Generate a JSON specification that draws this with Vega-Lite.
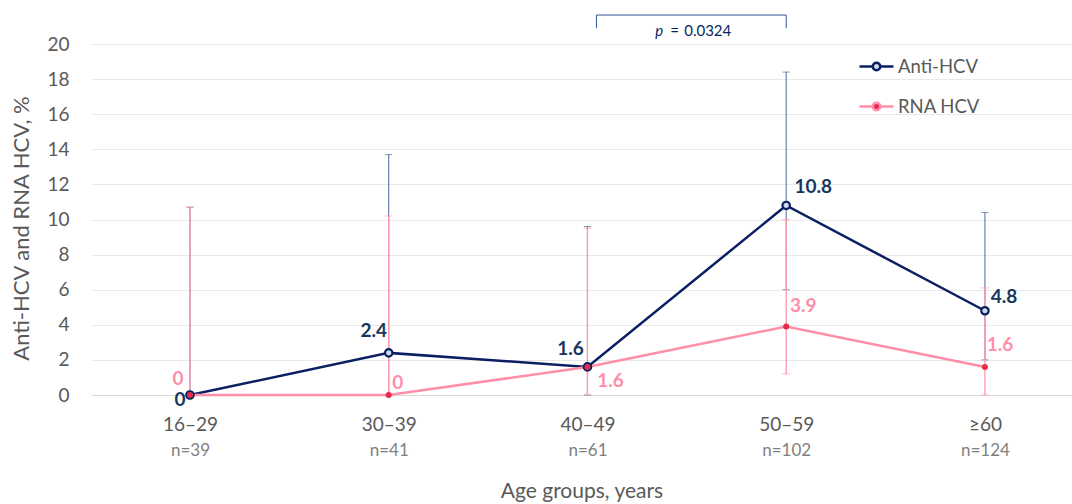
{
  "$schema": "https://vega.github.io/schema/vega-lite/v6.json",
  "width": 981,
  "height": 351,
  "autosize": {"type": "none"},
  "padding": {"left": 91, "top": 44, "right": 0, "bottom": 109},
  "background": "white",
  "config": {
    "view": {"stroke": null},
    "font": "Lato",
    "axis": {"labelFont": "Lato", "titleFont": "Lato", "titleFontWeight": "normal"}
  },
  "datasets": {
    "rates": [
      {"age": "16–29", "n": 39, "series": "Anti-HCV", "value": 0, "lo": 0, "hi": 10.7},
      {"age": "30–39", "n": 41, "series": "Anti-HCV", "value": 2.4, "lo": 0, "hi": 13.7},
      {"age": "40–49", "n": 61, "series": "Anti-HCV", "value": 1.6, "lo": 0, "hi": 9.6},
      {"age": "50–59", "n": 102, "series": "Anti-HCV", "value": 10.8, "lo": 6.0, "hi": 18.4},
      {"age": "≥60", "n": 124, "series": "Anti-HCV", "value": 4.8, "lo": 2.0, "hi": 10.4},
      {"age": "16–29", "n": 39, "series": "RNA HCV", "value": 0, "lo": 0, "hi": 10.7},
      {"age": "30–39", "n": 41, "series": "RNA HCV", "value": 0, "lo": 0, "hi": 10.2},
      {"age": "40–49", "n": 61, "series": "RNA HCV", "value": 1.6, "lo": 0, "hi": 9.5},
      {"age": "50–59", "n": 102, "series": "RNA HCV", "value": 3.9, "lo": 1.2, "hi": 10.0},
      {"age": "≥60", "n": 124, "series": "RNA HCV", "value": 1.6, "lo": 0, "hi": 6.1}
    ],
    "bracket": [
      {"from": "40–49", "to": "50–59", "p": "0.0324"}
    ]
  },
  "resolve": {"scale": {"x": "independent"}, "axis": {"x": "independent"}},
  "layer": [
    {
      "encoding": {
        "x": {
          "field": "age", "type": "ordinal",
          "sort": ["16–29", "30–39", "40–49", "50–59", "≥60"],
          "scale": {"type": "point", "padding": 0.468, "align": 0.532},
          "axis": {
            "orient": "bottom", "title": null, "ticks": false,
            "domainColor": "#d9d9d9", "domainWidth": 1,
            "labelFontSize": 19, "labelColor": "#595959", "labelPadding": 20,
            "labelAngle": 0, "grid": false
          }
        }
      },
      "layer": [
        {
          "data": {"name": "rates"},
          "transform": [{"filter": "datum.series === 'Anti-HCV'"}],
          "mark": {"type": "errorbar", "color": "#4a6a9a", "thickness": 1, "ticks": {"size": 7, "thickness": 1}},
          "encoding": {
            "y": {
              "field": "lo", "type": "quantitative", "title": "Anti-HCV and RNA HCV, %",
              "scale": {"domain": [0, 20], "nice": false, "zero": true},
              "axis": {
                "title": "Anti-HCV and RNA HCV, %", "values": [0, 2, 4, 6, 8, 10, 12, 14, 16, 18, 20], "tickCount": 11,
                "domain": false, "ticks": false, "gridColor": "#e9e9e9", "gridWidth": 1,
                "labelFontSize": 19, "labelColor": "#595959", "labelPadding": 22,
                "titleFontSize": 22, "titleColor": "#595959", "titlePadding": 13, "titleY": 184
              }
            },
            "y2": {"field": "hi"}
          }
        },
        {
          "data": {"name": "rates"},
          "transform": [{"filter": "datum.series === 'RNA HCV'"}],
          "mark": {"type": "errorbar", "color": "#ff9db2", "thickness": 1.4, "ticks": {"size": 8, "thickness": 1}},
          "encoding": {
            "y": {"field": "lo", "type": "quantitative", "title": "Anti-HCV and RNA HCV, %"},
            "y2": {"field": "hi"}
          }
        },
        {
          "data": {"name": "rates"},
          "mark": {"type": "line", "strokeWidth": 2.5},
          "encoding": {
            "y": {"field": "value", "type": "quantitative", "title": "Anti-HCV and RNA HCV, %"},
            "color": {
              "field": "series", "type": "nominal",
              "scale": {"domain": ["Anti-HCV", "RNA HCV"], "range": ["#0b1f63", "#ff8fa8"]},
              "legend": {
                "orient": "none", "legendX": 767, "legendY": 4, "title": null,
                "symbolType": "M-1,0H-0.22M0.22,0H1M-0.22,0A0.22,0.22,0,1,0,0.22,0A0.22,0.22,0,1,0,-0.22,0Z",
                "symbolSize": 1156, "symbolStrokeWidth": 2.5,
                "labelFontSize": 18.5, "labelColor": "#595959", "labelFont": "Lato",
                "labelOffset": 3, "rowPadding": 12, "padding": 0,
                "encode": {
                  "symbols": {
                    "update": {
                      "fill": {"signal": "datum.value === 'Anti-HCV' ? '#cfdaeb' : '#e8294a'"},
                      "fillOpacity": {"value": 1}
                    }
                  }
                }
              }
            },
            "order": {"field": "series", "sort": "descending"}
          }
        },
        {
          "data": {"name": "rates"},
          "transform": [{"filter": "datum.series === 'Anti-HCV'"}],
          "mark": {"type": "point", "shape": "circle", "filled": false, "fill": "#cfdaeb", "fillOpacity": 1, "stroke": "#0b1f63", "strokeWidth": 2.2, "size": 55, "opacity": 1},
          "encoding": {"y": {"field": "value", "type": "quantitative", "title": "Anti-HCV and RNA HCV, %"}}
        },
        {
          "data": {"name": "rates"},
          "transform": [{"filter": "datum.series === 'RNA HCV'"}],
          "mark": {"type": "point", "shape": "circle", "filled": true, "color": "#e8294a", "size": 36, "opacity": 1},
          "encoding": {"y": {"field": "value", "type": "quantitative", "title": "Anti-HCV and RNA HCV, %"}}
        },
        {
          "data": {"name": "rates"},
          "transform": [{"filter": "datum.series === 'Anti-HCV' && datum.age === '16–29'"}],
          "mark": {"type": "text", "fontSize": 19, "fontWeight": "bold", "color": "#17375e", "dx": -10, "dy": 5},
          "encoding": {"y": {"field": "value", "type": "quantitative", "title": "Anti-HCV and RNA HCV, %"}, "text": {"field": "value", "type": "quantitative"}}
        },
        {
          "data": {"name": "rates"},
          "transform": [{"filter": "datum.series === 'Anti-HCV' && datum.age === '30–39'"}],
          "mark": {"type": "text", "fontSize": 19, "fontWeight": "bold", "color": "#17375e", "dx": -15, "dy": -22},
          "encoding": {"y": {"field": "value", "type": "quantitative", "title": "Anti-HCV and RNA HCV, %"}, "text": {"field": "value", "type": "quantitative", "format": ".1f"}}
        },
        {
          "data": {"name": "rates"},
          "transform": [{"filter": "datum.series === 'Anti-HCV' && datum.age === '40–49'"}],
          "mark": {"type": "text", "fontSize": 19, "fontWeight": "bold", "color": "#17375e", "dx": -17, "dy": -18},
          "encoding": {"y": {"field": "value", "type": "quantitative", "title": "Anti-HCV and RNA HCV, %"}, "text": {"field": "value", "type": "quantitative", "format": ".1f"}}
        },
        {
          "data": {"name": "rates"},
          "transform": [{"filter": "datum.series === 'Anti-HCV' && datum.age === '50–59'"}],
          "mark": {"type": "text", "fontSize": 19, "fontWeight": "bold", "color": "#17375e", "dx": 27, "dy": -18},
          "encoding": {"y": {"field": "value", "type": "quantitative", "title": "Anti-HCV and RNA HCV, %"}, "text": {"field": "value", "type": "quantitative", "format": ".1f"}}
        },
        {
          "data": {"name": "rates"},
          "transform": [{"filter": "datum.series === 'Anti-HCV' && datum.age === '≥60'"}],
          "mark": {"type": "text", "fontSize": 19, "fontWeight": "bold", "color": "#17375e", "dx": 19, "dy": -14},
          "encoding": {"y": {"field": "value", "type": "quantitative", "title": "Anti-HCV and RNA HCV, %"}, "text": {"field": "value", "type": "quantitative", "format": ".1f"}}
        },
        {
          "data": {"name": "rates"},
          "transform": [{"filter": "datum.series === 'RNA HCV' && datum.age === '16–29'"}],
          "mark": {"type": "text", "fontSize": 19, "fontWeight": "bold", "color": "#ff8fa8", "dx": -12, "dy": -16},
          "encoding": {"y": {"field": "value", "type": "quantitative", "title": "Anti-HCV and RNA HCV, %"}, "text": {"field": "value", "type": "quantitative"}}
        },
        {
          "data": {"name": "rates"},
          "transform": [{"filter": "datum.series === 'RNA HCV' && datum.age === '30–39'"}],
          "mark": {"type": "text", "fontSize": 19, "fontWeight": "bold", "color": "#ff8fa8", "dx": 9, "dy": -12},
          "encoding": {"y": {"field": "value", "type": "quantitative", "title": "Anti-HCV and RNA HCV, %"}, "text": {"field": "value", "type": "quantitative"}}
        },
        {
          "data": {"name": "rates"},
          "transform": [{"filter": "datum.series === 'RNA HCV' && datum.age === '40–49'"}],
          "mark": {"type": "text", "fontSize": 19, "fontWeight": "bold", "color": "#ff8fa8", "dx": 23, "dy": 14},
          "encoding": {"y": {"field": "value", "type": "quantitative", "title": "Anti-HCV and RNA HCV, %"}, "text": {"field": "value", "type": "quantitative", "format": ".1f"}}
        },
        {
          "data": {"name": "rates"},
          "transform": [{"filter": "datum.series === 'RNA HCV' && datum.age === '50–59'"}],
          "mark": {"type": "text", "fontSize": 19, "fontWeight": "bold", "color": "#ff8fa8", "dx": 17, "dy": -21},
          "encoding": {"y": {"field": "value", "type": "quantitative", "title": "Anti-HCV and RNA HCV, %"}, "text": {"field": "value", "type": "quantitative", "format": ".1f"}}
        },
        {
          "data": {"name": "rates"},
          "transform": [{"filter": "datum.series === 'RNA HCV' && datum.age === '≥60'"}],
          "mark": {"type": "text", "fontSize": 19, "fontWeight": "bold", "color": "#ff8fa8", "dx": 15, "dy": -22},
          "encoding": {"y": {"field": "value", "type": "quantitative", "title": "Anti-HCV and RNA HCV, %"}, "text": {"field": "value", "type": "quantitative", "format": ".1f"}}
        },
        {
          "data": {"name": "bracket"},
          "mark": {"type": "rule", "color": "#2f5597", "strokeWidth": 1, "clip": false, "xOffset": 9},
          "encoding": {"x": {"field": "from"}, "x2": {"field": "to"}, "y": {"datum": 21.65}}
        },
        {
          "data": {"name": "bracket"},
          "mark": {"type": "rule", "color": "#2f5597", "strokeWidth": 1, "clip": false, "xOffset": 9},
          "encoding": {"x": {"field": "from"}, "y": {"datum": 20.9}, "y2": {"datum": 21.65}}
        },
        {
          "data": {"name": "bracket"},
          "mark": {"type": "rule", "color": "#2f5597", "strokeWidth": 1, "clip": false},
          "encoding": {"x": {"field": "to"}, "y": {"datum": 20.9}, "y2": {"datum": 21.65}}
        },
        {
          "data": {"name": "bracket"},
          "mark": {"type": "text", "fontSize": 15, "fontStyle": "italic", "color": "#0b1f63", "align": "left", "baseline": "alphabetic", "dx": -131, "clip": false},
          "encoding": {"x": {"field": "to"}, "y": {"datum": 20.45}, "text": {"value": "p"}}
        },
        {
          "data": {"name": "bracket"},
          "mark": {"type": "text", "fontSize": 15, "color": "#0b1f63", "align": "left", "baseline": "alphabetic", "dx": -116, "clip": false},
          "encoding": {"x": {"field": "to"}, "y": {"datum": 20.45}, "text": {"value": "="}}
        },
        {
          "data": {"name": "bracket"},
          "mark": {"type": "text", "fontSize": 15, "color": "#0b1f63", "align": "left", "baseline": "alphabetic", "dx": -102, "clip": false},
          "encoding": {"x": {"field": "to"}, "y": {"datum": 20.45}, "text": {"field": "p", "type": "nominal"}}
        }
      ]
    },
    {
      "data": {"name": "rates"},
      "transform": [{"filter": "datum.series === 'Anti-HCV'"}],
      "mark": {"type": "point", "opacity": 0},
      "encoding": {
        "x": {
          "field": "n", "type": "ordinal",
          "scale": {"type": "point", "padding": 0.468, "align": 0.532},
          "axis": {
            "orient": "bottom", "title": "Age groups, years", "ticks": false, "domain": false,
            "labelExpr": "'n=' + datum.label",
            "labelFontSize": 17, "labelColor": "#7f7f7f", "labelPadding": 47, "labelAngle": 0,
            "titleFontSize": 21, "titleColor": "#595959", "titlePadding": 22, "grid": false
          }
        }
      }
    }
  ]
}
